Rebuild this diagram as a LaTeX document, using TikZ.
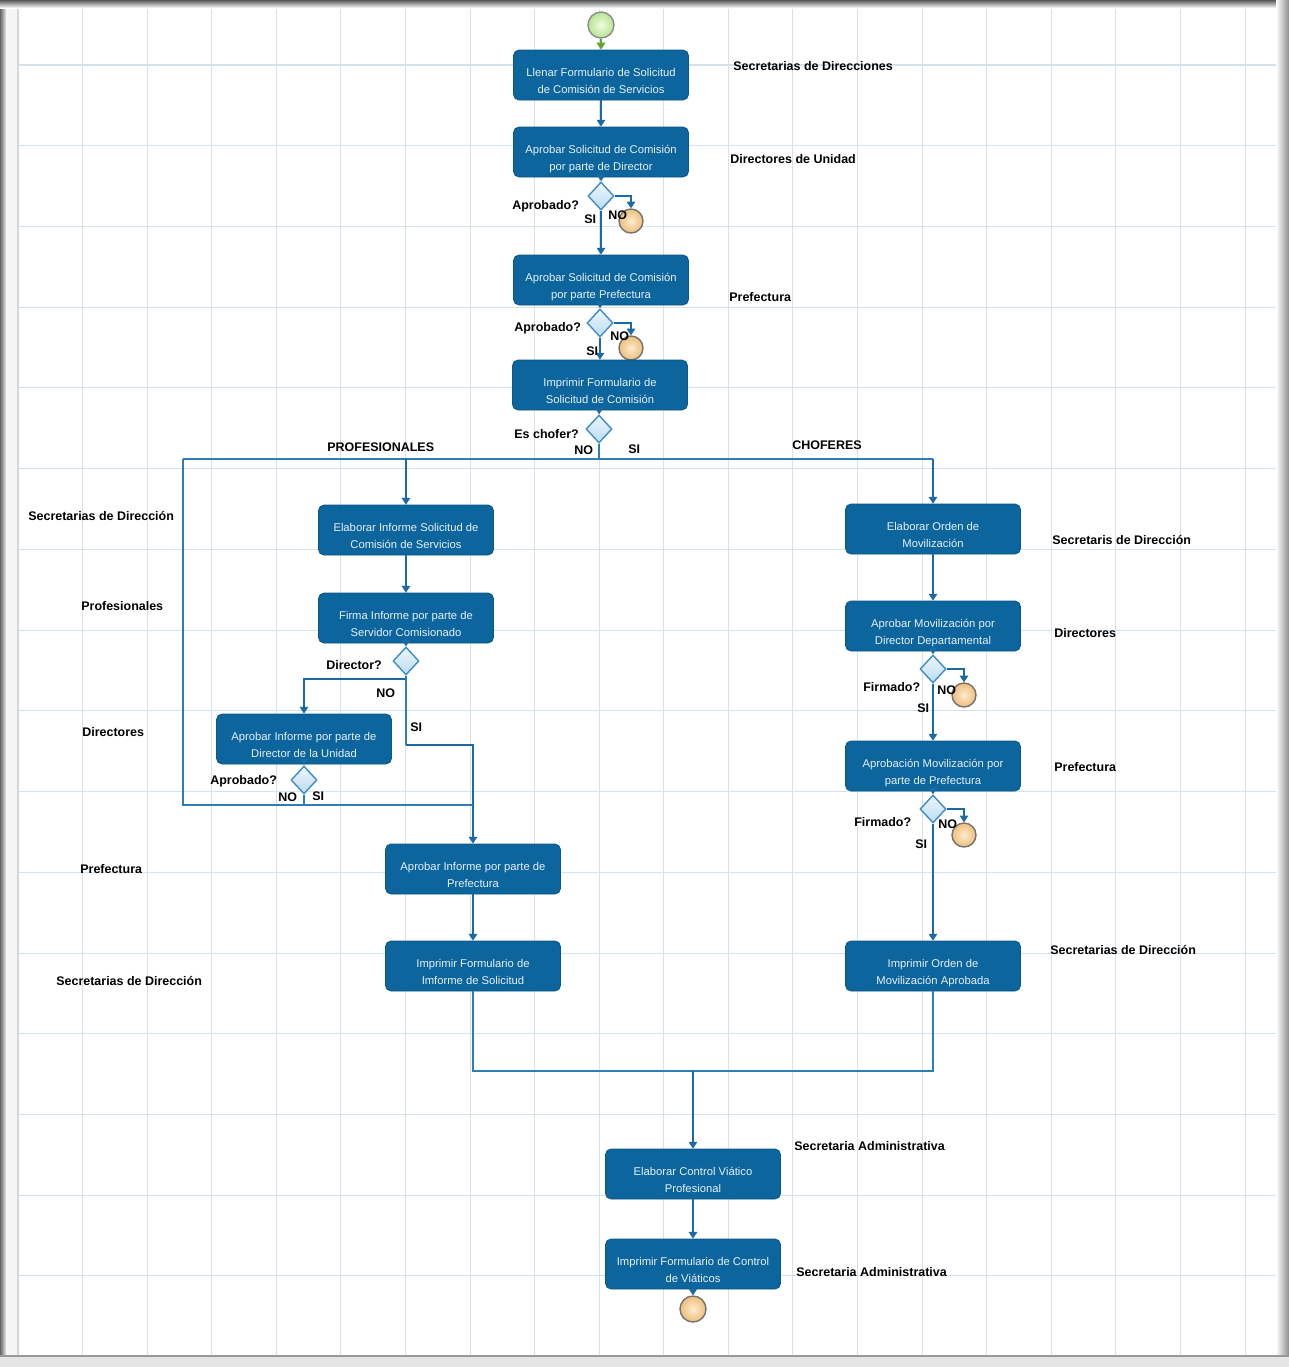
\documentclass[tikz,border=0pt]{standalone}
\usepackage{fontspec}
\setmainfont{Liberation Sans}
\usetikzlibrary{shapes.geometric,arrows.meta}
\definecolor{boxblue}{HTML}{0C659C}
\definecolor{boxedge}{HTML}{0A5684}
\definecolor{boxtext}{HTML}{E6F1FA}
\definecolor{linkblue}{HTML}{2F7DB5}
\definecolor{tipblue}{HTML}{1B6AA3}
\definecolor{gridblue}{HTML}{D3E2ED}
\definecolor{diafill}{HTML}{D2E9F8}
\definecolor{diaedge}{HTML}{3E8DC7}
\definecolor{startgreen}{HTML}{5FA52E}
\definecolor{stopin}{HTML}{FCECD2}
\definecolor{stopout}{HTML}{EFBE78}
\definecolor{gostin}{HTML}{EFFBE4}
\definecolor{gostout}{HTML}{B7E58E}
% two-line step caption, set a little below the box centre
\newcommand\steptext[1]{\raisebox{-4pt}[\height][\depth]{\begin{tabular}{@{}c@{}}#1\end{tabular}}}
\tikzset{
  stepbox/.style={rectangle, rounded corners=3.2pt, fill=boxblue, draw=boxedge, line width=0.5pt,
    minimum width=3.5cm, minimum height=1cm, inner sep=1pt, text=boxtext,
    font=\fontsize{6.4}{9.6}\selectfont},
  decide/.style={diamond, minimum width=0.52cm, minimum height=0.56cm, inner sep=0pt,
    top color=white!60!diafill, bottom color=diafill!85!diaedge, draw=diaedge, line width=0.8pt},
  stopdot/.style={circle, minimum size=0.48cm, inner sep=0pt, draw=black!55, line width=0.8pt,
    inner color=stopin, outer color=stopout},
  startdot/.style={circle, minimum width=0.48cm, inner sep=0pt, draw=black!45, line width=0.8pt,
    inner color=gostin, outer color=gostout},
  lbl/.style={font=\fontsize{7.1}{8.5}\selectfont\bfseries, inner sep=0pt, text=black},
  link/.style={draw=linkblue, line width=0.9pt},
  arr/.style={link, -{Triangle[width=4.8pt,length=3.8pt]}, tipblue},
}
\begin{document}
\begin{tikzpicture}[x=0.02cm,y=-0.02cm]
\useasboundingbox (0,0) rectangle (1289,1367);
% page and frame
\fill[white] (0,0) rectangle (1289,1367);
\foreach \i in {1,...,19} \draw[gridblue, line width=0.6pt] ({18+64.58*\i},4) -- ({18+64.58*\i},1356);
\foreach \j in {0,...,15} \draw[gridblue, line width=0.6pt] (18,{65+80.73*\j}) -- (1280,{65+80.73*\j});
\shade[left color=black!60, right color=black!8] (0,0) rectangle (6,1367);
\fill[black!4] (6,0) rectangle (17,1356);
\draw[gridblue!70!black!40, line width=0.8pt] (18,0) -- (18,1356);
\shade[top color=black!65, bottom color=white] (0,0) rectangle (1289,8);
\shade[left color=white, right color=black!45] (1276,0) rectangle (1289,1367);
\fill[black!10] (0,1357) rectangle (1289,1367);
\draw[black!40, line width=0.8pt] (0,1356) -- (1289,1356);

% central column
\node[startdot, minimum height=0.52cm] (st) at (601,25) {};
\node[stepbox] (b1) at (601,75) {\steptext{Llenar Formulario de Solicitud\\de Comisión de Servicios}};
\node[stepbox] (b2) at (601,152) {\steptext{Aprobar Solicitud de Comisión\\por parte de Director}};
\node[decide] (d1) at (601,196) {};
\node[stopdot] (e1) at (631,221) {};
\node[stepbox] (b3) at (601,280) {\steptext{Aprobar Solicitud de Comisión\\por parte Prefectura}};
\node[decide] (d2) at (600,323) {};
\node[stopdot] (e2) at (631,348) {};
\node[stepbox] (b4) at (600,385) {\steptext{Imprimir Formulario de\\Solicitud de Comisión}};
\node[decide] (d3) at (599,429) {};

% left branch
\node[stepbox] (b5) at (406,530) {\steptext{Elaborar Informe Solicitud de\\Comisión de Servicios}};
\node[stepbox] (b6) at (406,618) {\steptext{Firma Informe por parte de\\Servidor Comisionado}};
\node[decide] (d6) at (406,661) {};
\node[stepbox] (b7) at (304,739) {\steptext{Aprobar Informe por parte de\\Director de la Unidad}};
\node[decide] (d7) at (304,780) {};
\node[stepbox] (b8) at (473,869) {\steptext{Aprobar Informe por parte de\\Prefectura}};
\node[stepbox] (b9) at (473,966) {\steptext{Imprimir Formulario de\\Imforme de Solicitud}};

% right branch
\node[stepbox] (b10) at (933,529) {\steptext{Elaborar Orden de\\Movilización}};
\node[stepbox] (b11) at (933,626) {\steptext{Aprobar Movilización por\\Director Departamental}};
\node[decide] (d11) at (933,669) {};
\node[stopdot] (e11) at (964,695) {};
\node[stepbox] (b12) at (933,766) {\steptext{Aprobación Movilización por\\parte de Prefectura}};
\node[decide] (d12) at (933,809) {};
\node[stopdot] (e12) at (964,835) {};
\node[stepbox] (b13) at (933,966) {\steptext{Imprimir Orden de\\Movilización Aprobada}};

% closing steps
\node[stepbox] (b14) at (693,1174) {\steptext{Elaborar Control Viático\\Profesional}};
\node[stepbox] (b15) at (693,1264) {\steptext{Imprimir Formulario de Control\\de Viáticos}};
\node[stopdot, minimum height=0.52cm] (fin) at (693,1309) {};

% junction points
\coordinate (jm) at (599,459);
\coordinate (jl) at (183,459);
\coordinate (jr) at (933,459);
\coordinate (ll) at (183,805);
\coordinate (k6) at (406,679);
\coordinate (s6) at (406,745);
\coordinate (mb) at (693,1071);

% connectors: central column
\draw[link, startgreen, -{Triangle[width=5pt,length=4pt]}] (st) -- (b1.north);
\draw[arr] (b1) -- (b2.north);
\draw[arr] (b2) -- (d1.north);
\draw[arr] (d1.east) -| (e1.north);
\draw[arr] (d1.south) -- (b3.north);
\draw[arr] (b3) -- (d2.north);
\draw[arr] (d2.east) -| (e2.north);
\draw[arr] (d2.south) -- (b4.north);
\draw[arr] (b4) -- (d3.north);
\draw[link] (d3.south) -- (jm);
\draw[link] (jl) -- (jr);

% connectors: left branch
\draw[arr] (jl -| b5.north) -- (b5.north);
\draw[arr] (b5) -- (b6.north);
\draw[arr] (b6) -- (d6.north);
\draw[link] (d6.south) -- (k6);
\draw[arr] (k6) -| (b7.north);
\draw[link] (k6) -- (s6);
\draw[arr] (s6) -| (b8.north);
\draw[arr] (b7) -- (d7.north);
\draw[link] (d7.south) -- (d7.south |- ll);
\draw[link] (jl) -- (ll) -- (ll -| b8.north);
\draw[arr] (b8) -- (b9.north);

% connectors: right branch
\draw[arr] (jr) -- (b10.north);
\draw[arr] (b10) -- (b11.north);
\draw[arr] (b11) -- (d11.north);
\draw[arr] (d11.east) -| (e11.north);
\draw[arr] (d11.south) -- (b12.north);
\draw[arr] (b12) -- (d12.north);
\draw[arr] (d12.east) -| (e12.north);
\draw[arr] (d12.south) -- (b13.north);

% merge and closing
\draw[link] (b9.south) -- (b9.south |- mb) -- (b13.south |- mb) -- (b13.south);
\draw[arr] (mb) -- (b14.north);
\draw[arr] (b14) -- (b15.north);
\draw[arr] (b15) -- (fin.north);

% decision labels
\node[lbl, anchor=west] (q1) at (512,206) {Aprobado?};
\node[lbl, anchor=west] (y1) at (584,219) {SI};
\node[lbl, anchor=west] (n1) at (608,215) {NO};
\node[lbl, anchor=west] (q2) at (514,328) {Aprobado?};
\node[lbl, anchor=west] (n2) at (610,336) {NO};
\node[lbl, anchor=west] (y2) at (586,351) {SI};
\node[lbl, anchor=west] (q3) at (514,434) {Es chofer?};
\node[lbl, anchor=west] (n3) at (574,450) {NO};
\node[lbl, anchor=west] (y3) at (628,449) {SI};
\node[lbl, anchor=west] (q6) at (326,665) {Director?};
\node[lbl, anchor=west] (n6) at (376,693) {NO};
\node[lbl, anchor=west] (y6) at (410,727) {SI};
\node[lbl, anchor=west] (q7) at (210,781) {Aprobado?};
\node[lbl, anchor=west] (n7) at (278,797) {NO};
\node[lbl, anchor=west] (y7) at (312,796) {SI};
\node[lbl, anchor=west] (q11) at (863,687) {Firmado?};
\node[lbl, anchor=west] (n11) at (937,690) {NO};
\node[lbl, anchor=west] (y11) at (917,708) {SI};
\node[lbl, anchor=west] (q12) at (854,822) {Firmado?};
\node[lbl, anchor=west] (n12) at (938,824) {NO};
\node[lbl, anchor=west] (y12) at (915,844) {SI};
\node[lbl, anchor=west] (hp) at (327,447) {PROFESIONALES};
\node[lbl, anchor=west] (hc) at (792,445) {CHOFERES};

% role labels
\node[lbl, anchor=west] (r1) at (733,66) {Secretarias de Direcciones};
\node[lbl, anchor=west] (r2) at (730,159) {Directores de Unidad};
\node[lbl, anchor=west] (r3) at (729,297) {Prefectura};
\node[lbl, anchor=west] (r4) at (28,516) {Secretarias de Dirección};
\node[lbl, anchor=west] (r5) at (81,606) {Profesionales};
\node[lbl, anchor=west] (r6) at (82,732) {Directores};
\node[lbl, anchor=west] (r7) at (80,869) {Prefectura};
\node[lbl, anchor=west] (r8) at (56,981) {Secretarias de Dirección};
\node[lbl, anchor=west] (r9) at (1052,540) {Secretaris de Dirección};
\node[lbl, anchor=west] (r10) at (1054,633) {Directores};
\node[lbl, anchor=west] (r11) at (1054,767) {Prefectura};
\node[lbl, anchor=west] (r12) at (1050,950) {Secretarias de Dirección};
\node[lbl, anchor=west] (r13) at (794,1146) {Secretaria Administrativa};
\node[lbl, anchor=west] (r14) at (796,1272) {Secretaria Administrativa};
\end{tikzpicture}
\end{document}
